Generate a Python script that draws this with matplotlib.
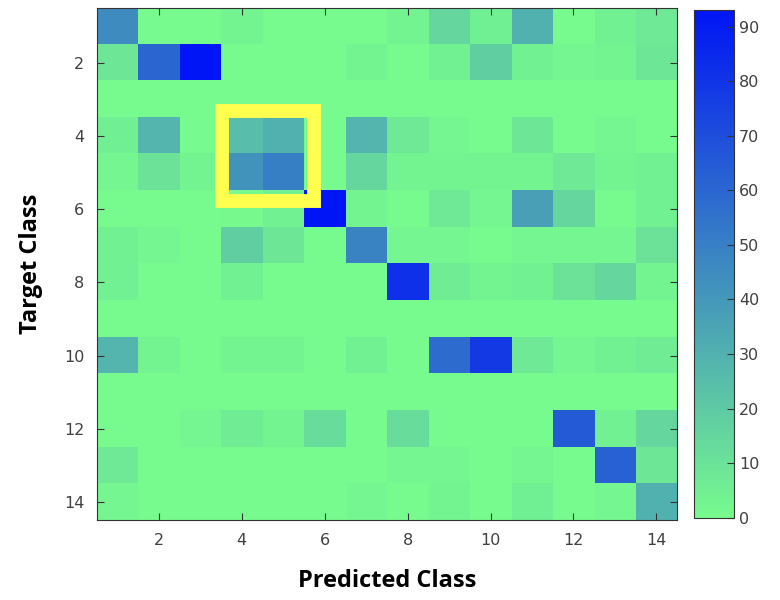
import numpy as np
import matplotlib.pyplot as plt
from matplotlib.colors import LinearSegmentedColormap
from matplotlib.patches import Rectangle

# class labels 1..14 (target rows, predicted columns)
classes = list(range(1, 15))
tick_labels = [2, 4, 6, 8, 10, 12, 14]

# confusion counts (row = target, col = predicted)
row01 = [45, 0, 0, 3, 0, 0, 0, 3, 15, 5, 30, 0, 4, 7]
row02 = [8, 60, 93, 0, 0, 0, 3, 0, 4, 18, 4, 2, 3, 8]
row03 = [0, 0, 0, 0, 0, 0, 0, 0, 0, 0, 0, 0, 0, 0]
row04 = [5, 28, 0, 25, 30, 0, 28, 7, 2, 0, 8, 0, 2, 0]
row05 = [2, 10, 3, 42, 50, 0, 15, 3, 3, 3, 3, 7, 3, 4]
row06 = [0, 0, 0, 1, 4, 93, 3, 0, 7, 2, 37, 15, 0, 4]
row07 = [4, 2, 0, 18, 8, 0, 48, 2, 2, 0, 2, 2, 2, 10]
row08 = [4, 0, 0, 4, 0, 0, 0, 82, 6, 3, 4, 10, 15, 3]
row09 = [0, 0, 0, 0, 0, 0, 0, 0, 0, 0, 0, 0, 0, 0]
row10 = [28, 3, 0, 3, 3, 0, 4, 0, 58, 78, 7, 2, 4, 6]
row11 = [0, 0, 0, 0, 0, 0, 0, 0, 0, 0, 0, 0, 0, 0]
row12 = [0, 0, 2, 6, 3, 12, 0, 12, 0, 0, 0, 65, 4, 15]
row13 = [7, 0, 0, 0, 0, 0, 0, 2, 2, 0, 2, 0, 62, 8]
row14 = [2, 0, 0, 0, 0, 0, 2, 0, 3, 0, 5, 0, 2, 30]

conf = np.array([row01, row02, row03, row04, row05, row06, row07,
                 row08, row09, row10, row11, row12, row13, row14])
vmax = 93

# highlighted block (target 4-5, predicted 4-5)
box_x0, box_x1 = 3.52, 5.74
box_y0, box_y1 = 3.31, 5.77

cmap = LinearSegmentedColormap.from_list("greenblue", ["#78FB8E", "#0015F5"])

fig = plt.figure(figsize=(7.8, 6), dpi=100)
ax = fig.add_axes([0.124, 0.133, 0.744, 0.854])
cax = fig.add_axes([0.890, 0.137, 0.051, 0.846])

im = ax.imshow(conf, cmap=cmap, vmin=0, vmax=vmax, aspect="auto",
               extent=[0.5, 14.5, 14.5, 0.5], interpolation="nearest")

ax.add_patch(Rectangle((box_x0, box_y0), box_x1 - box_x0, box_y1 - box_y0,
                       fill=False, edgecolor="#FFFF50", linewidth=10,
                       joinstyle="miter"))

ax.set_xticks(tick_labels)
ax.set_yticks(tick_labels)
ax.tick_params(direction="in", top=True, right=True, length=5,
               labelsize=11.5, labelcolor="#404040", color="#333333", pad=9)
for s in ax.spines.values():
    s.set_color("#333333")

lab_font = {"family": "Open Sans", "weight": "bold", "size": 17}
ax.set_xlabel("Predicted Class", fontdict=lab_font, labelpad=15)
ax.set_ylabel("Target Class", fontdict=lab_font, labelpad=15)

cb = fig.colorbar(im, cax=cax, ticks=range(0, 91, 10))
cb.ax.tick_params(direction="in", length=5, labelsize=11.5,
                  labelcolor="#404040", color="#333333")
cb.outline.set_edgecolor("#333333")

fig.savefig("out.png", dpi=100)
